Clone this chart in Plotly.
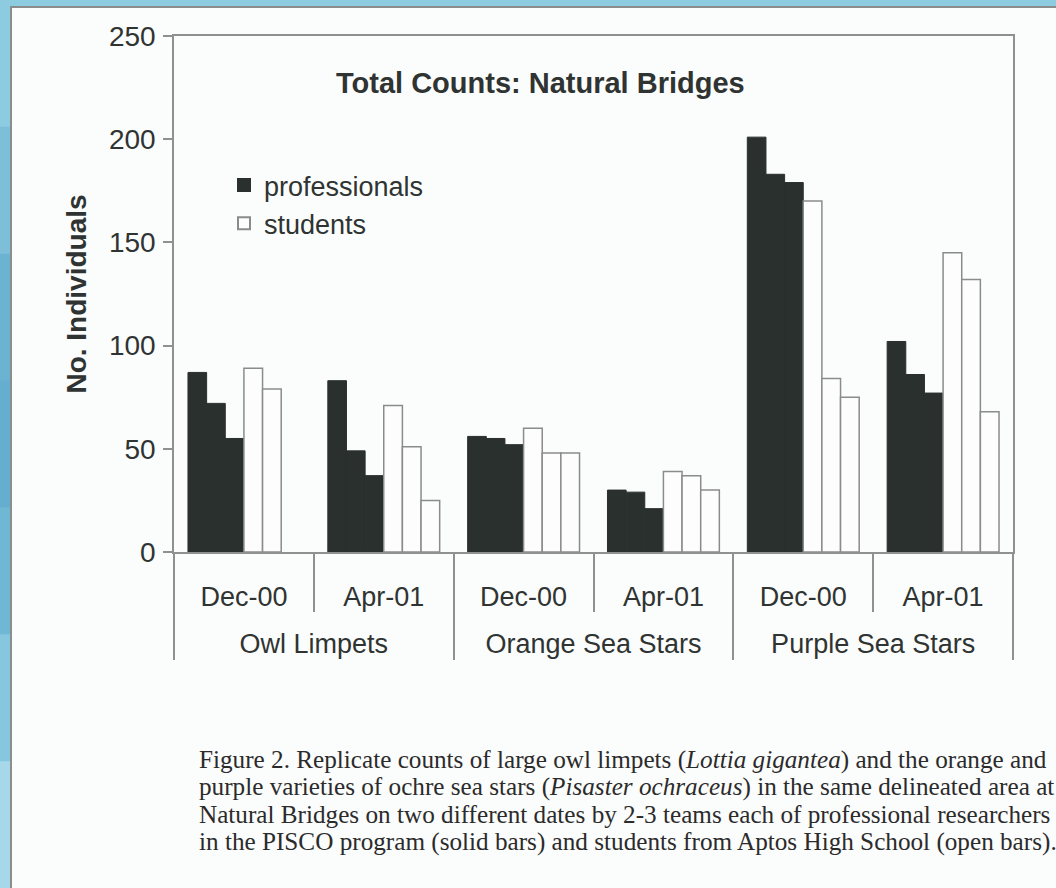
import plotly.graph_objects as go


# categories (outer level: species, inner level: survey date)
species = [
    'Owl Limpets', 'Owl Limpets',
    'Orange Sea Stars', 'Orange Sea Stars',
    'Purple Sea Stars', 'Purple Sea Stars',
]
dates = ['Dec-00', 'Apr-01', 'Dec-00', 'Apr-01', 'Dec-00', 'Apr-01']

# replicate team counts, professionals (solid bars)
prof_team_1 = [87, 83, 56, 30, 201, 102]
prof_team_2 = [72, 49, 55, 29, 183, 86]
prof_team_3 = [55, 37, 52, 21, 179, 77]

# replicate team counts, students (open bars)
stud_team_1 = [89, 71, 60, 39, 170, 145]
stud_team_2 = [79, 51, 48, 37, 84, 132]
stud_team_3 = [None, 25, 48, 30, 75, 68]

y_ticks = [0, 50, 100, 150, 200, 250]

chart_title = 'Total Counts: Natural Bridges'
y_title = 'No. Individuals'
caption_lines = [
    'Figure 2. Replicate counts of large owl limpets (<i>Lottia gigantea</i>) and the orange and',
    'purple varieties of ochre sea stars (<i>Pisaster ochraceus</i>) in the same delineated area at',
    'Natural Bridges on two different dates by 2-3 teams each of professional researchers',
    'in the PISCO program (solid bars) and students from Aptos High School (open bars).',
]


W, H = 1056, 888
M_L, M_R, M_T, M_B = 174, 43, 36, 336
PLOT_W = W - M_L - M_R
PLOT_H = H - M_T - M_B

SANS = 'Liberation Sans, Arial, sans-serif'
SERIF = 'Liberation Serif, Times New Roman, serif'
TEXT_COLOR = '#2f3432'
AXIS_COLOR = '#8f9190'
SLIDE_BLUE = '#8ccbe0'

PROF_STYLE = {
    'marker': {'color': '#2a302e', 'line': {'color': '#2a302e', 'width': 1}},
}
STUD_STYLE = {
    'marker': {'color': '#fdfdfd', 'line': {'color': '#8a8c8b', 'width': 1.5}},
}


def px_x(x):
    return (x - M_L) / PLOT_W


def px_y(y):
    return (H - M_B - y) / PLOT_H


# the outer label row sits one blank line lower, below the date row
outer_labels = [f'<br>{s}' for s in species]


def add_team(fig, values, name, style, show):
    fig.add_trace(
        go.Bar(
            x=[outer_labels, dates],
            y=values,
            name=name,
            legendgroup=name,
            showlegend=show,
            **style
        )
    )
    return fig


fig = go.Figure()

add_team(fig, prof_team_1, 'professionals', PROF_STYLE, True)
add_team(fig, prof_team_2, 'professionals', PROF_STYLE, False)
add_team(fig, prof_team_3, 'professionals', PROF_STYLE, False)
add_team(fig, stud_team_1, 'students', STUD_STYLE, True)
add_team(fig, stud_team_2, 'students', STUD_STYLE, False)
add_team(fig, stud_team_3, 'students', STUD_STYLE, False)


# scanned page look: blue slide background, white sheet with grey edge
shapes = []
left_band = ['#8ccbe0', '#7dbfd9', '#6cb3d2', '#65aecf', '#70b7d4', '#86c6de', '#a6d8ea']
band_h = H / len(left_band)
for i, col in enumerate(left_band):
    shapes.append(dict(
        type='rect', xref='paper', yref='paper', layer='below',
        x0=px_x(-2), x1=px_x(11),
        y0=px_y(i * band_h + band_h + 1), y1=px_y(i * band_h),
        fillcolor=col, line={'width': 0},
    ))
shapes.append(dict(
    type='rect', xref='paper', yref='paper', layer='below',
    x0=px_x(11), x1=px_x(W + 10), y0=px_y(H + 10), y1=px_y(7),
    fillcolor='#fbfcfc', line={'color': '#8b8d8c', 'width': 2},
))

annotations = [
    dict(
        text=f'<b>{chart_title}</b>', xref='paper', yref='paper',
        x=px_x(540), y=px_y(83), xanchor='center', yanchor='middle',
        showarrow=False,
        font={'family': SANS, 'size': 29, 'color': TEXT_COLOR},
    )
]
for i, line in enumerate(caption_lines):
    annotations.append(dict(
        text=line, xref='paper', yref='paper',
        x=px_x(197), y=px_y(760 + i * 27.3), xanchor='left', yanchor='middle',
        showarrow=False,
        font={'family': SERIF, 'size': 25.2, 'color': '#2b2b2b'},
    ))

fig.update_layout(
    width=W, height=H,
    margin={'l': M_L, 'r': M_R, 't': M_T, 'b': M_B},
    paper_bgcolor=SLIDE_BLUE,
    plot_bgcolor='rgba(0,0,0,0)',
    barmode='group',
    bargap=0.2,
    bargroupgap=0,
    font={'family': SANS, 'size': 27, 'color': TEXT_COLOR},
    showlegend=True,
    legend={
        'x': px_x(224), 'y': px_y(161), 'xanchor': 'left', 'yanchor': 'top',
        'bgcolor': 'rgba(0,0,0,0)', 'font': {'size': 27, 'color': TEXT_COLOR},
        'tracegroupgap': 0, 'itemsizing': 'constant',
    },
    shapes=shapes,
    annotations=annotations,
)

fig.update_xaxes(
    type='multicategory',
    showline=True, linecolor=AXIS_COLOR, linewidth=1.5, mirror=True,
    ticks='outside', tickson='boundaries', ticklen=58,
    tickcolor=AXIS_COLOR, tickwidth=1.5,
    showdividers=True, dividercolor=AXIS_COLOR, dividerwidth=1.5,
    showgrid=False,
    tickfont={'size': 27, 'color': TEXT_COLOR},
    ticklabelstandoff=20,
)

fig.update_yaxes(
    range=[0, 250], tickvals=y_ticks,
    showline=True, linecolor=AXIS_COLOR, linewidth=1.5, mirror=True,
    ticks='outside', ticklen=9, tickcolor=AXIS_COLOR, tickwidth=1.5,
    showgrid=False, zeroline=False,
    tickfont={'size': 28, 'color': TEXT_COLOR},
    ticklabelstandoff=2,
    title={'text': f'<b>{y_title}</b>', 'font': {'size': 28, 'color': TEXT_COLOR},
           'standoff': 14},
)

# drop the page's default body margin so the figure fills the window
fig.write_html(
    'out.html',
    config={'displayModeBar': False},
    post_script=f"document.body.style.margin='0';"
                f"document.body.style.background='{SLIDE_BLUE}';",
)
